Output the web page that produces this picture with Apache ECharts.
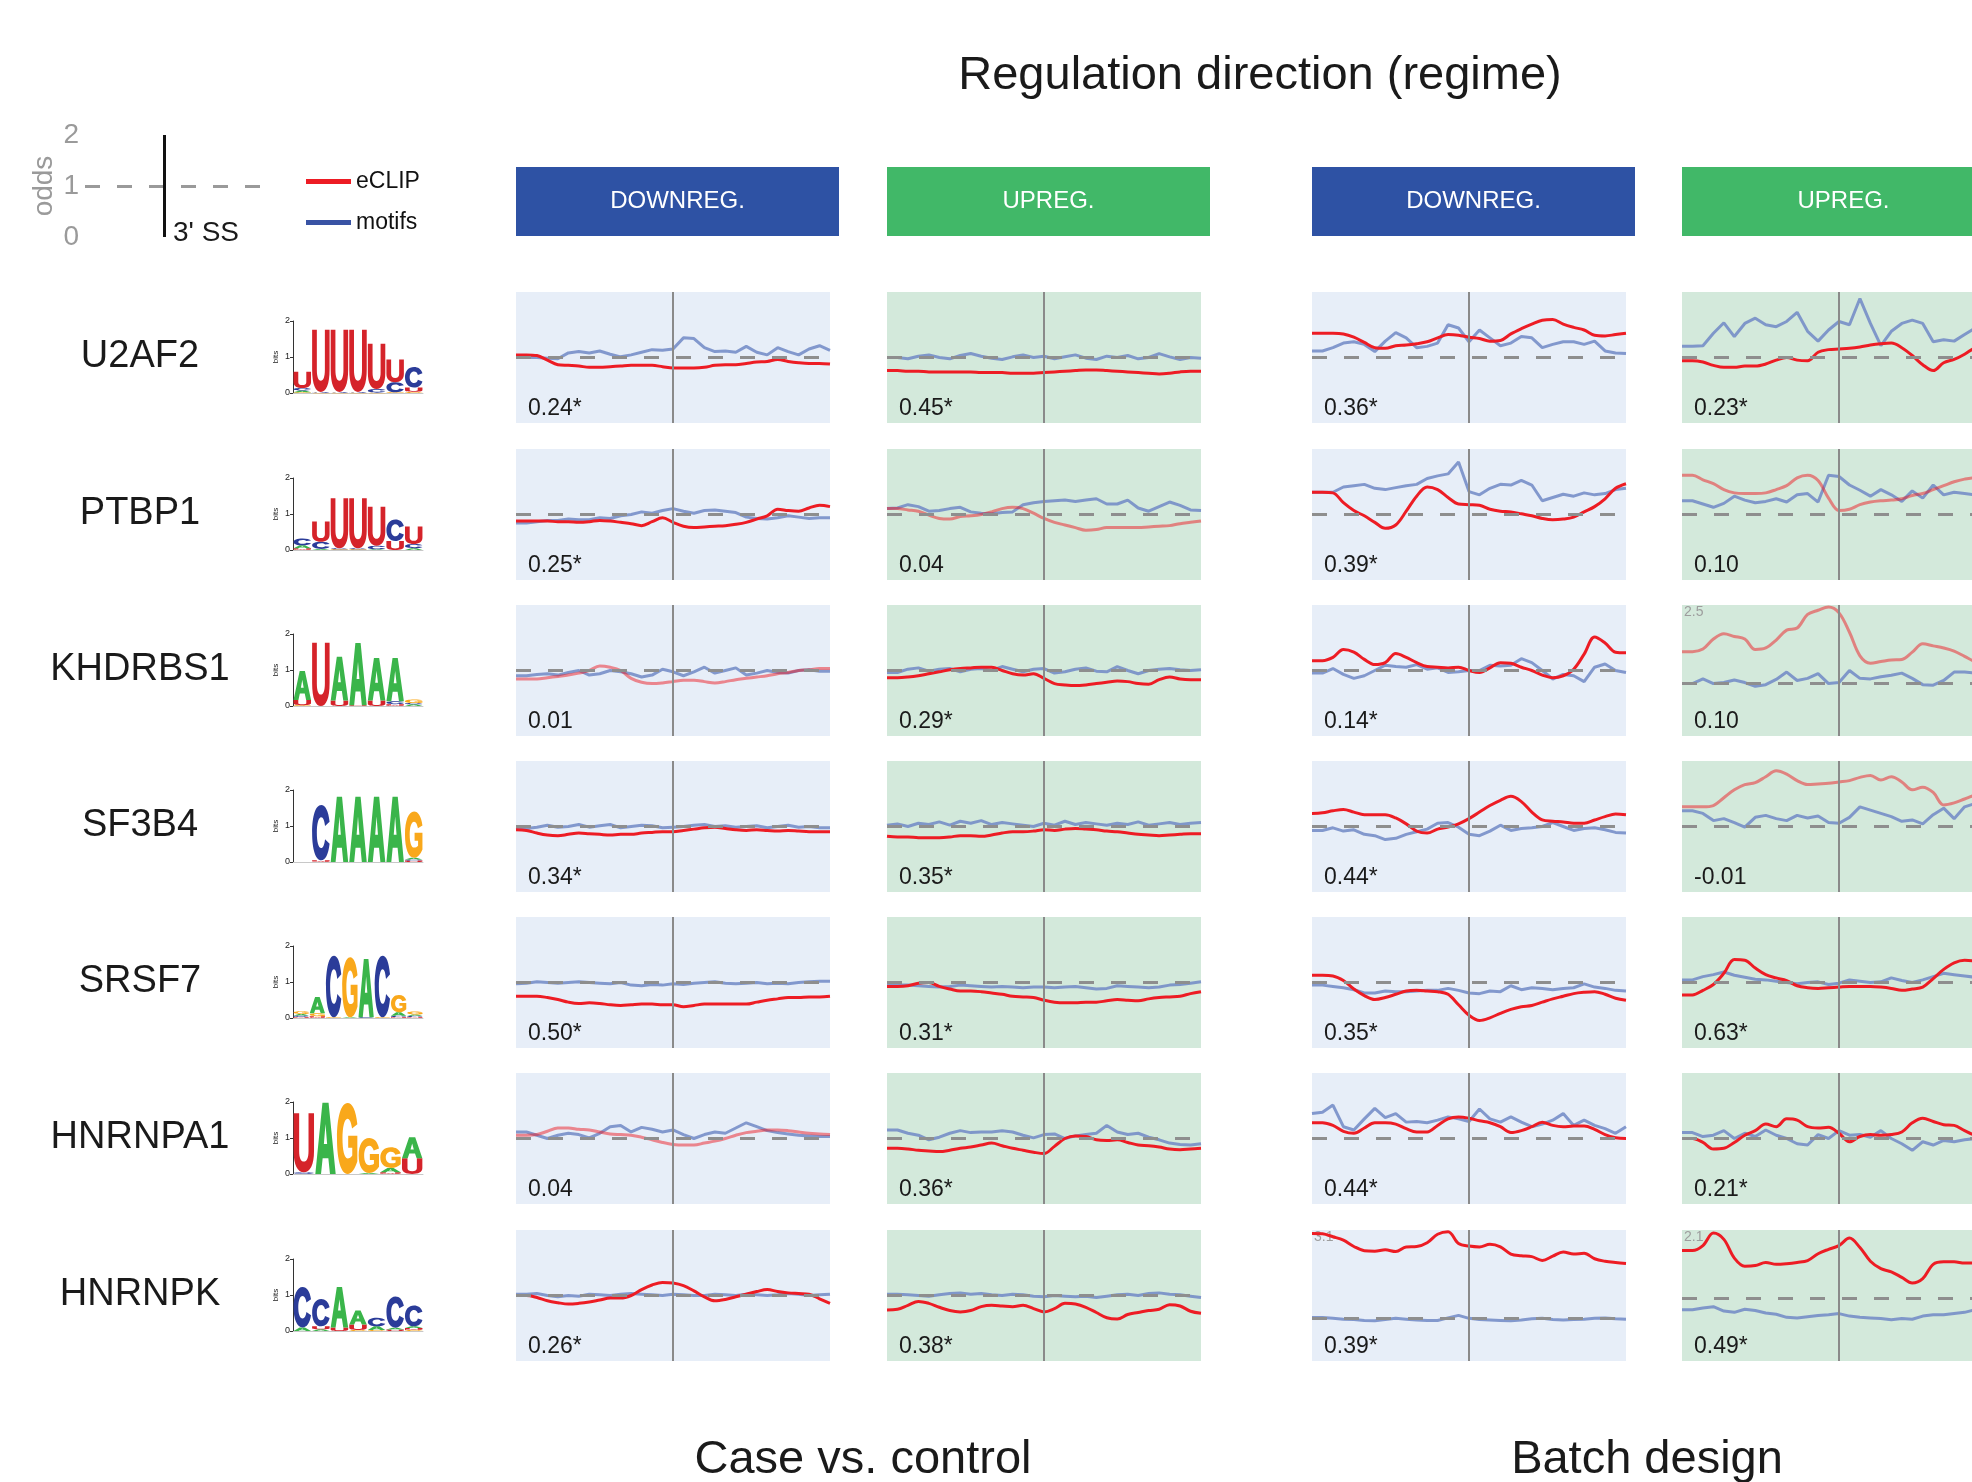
<!DOCTYPE html>
<html><head><meta charset="utf-8">
<script src="https://cdn.jsdelivr.net/npm/echarts@6/dist/echarts.min.js"></script>
<style>html,body{margin:0;padding:0;background:#fff}#c{width:1972px;height:1482px}</style>
</head><body><div id="c"></div>
<script>
// ---------------- data ----------------
const genes = ['U2AF2','PTBP1','KHDRBS1','SF3B4','SRSF7','HNRNPA1','HNRNPK'];
const headerLabels = ['DOWNREG.','UPREG.','DOWNREG.','UPREG.'];
const studyLabels = ['Case vs. control','Batch design'];
const titleText = 'Regulation direction (regime)';
const scores = [
  ['0.24*','0.45*','0.36*','0.23*'],
  ['0.25*','0.04','0.39*','0.10'],
  ['0.01','0.29*','0.14*','0.10'],
  ['0.34*','0.35*','0.44*','-0.01'],
  ['0.50*','0.31*','0.35*','0.63*'],
  ['0.04','0.36*','0.44*','0.21*'],
  ['0.26*','0.38*','0.39*','0.49*']
];
const yMaxes = [
  [2,2,2,2],[2,2,2,2],[2,2,2,2.5],[2,2,2,2],[2,2,2,2],[2,2,2,2],[2,2,3.1,2.1]
];
const legendTicks = [0,1,2];

const U2AF2_CD_eclip=[1.04,1.04,1.03,0.96,0.89,0.88,0.87,0.85,0.85,0.86,0.87,0.88,0.88,0.88,0.86,0.84,0.84,0.84,0.85,0.88,0.89,0.89,0.91,0.93,0.94,0.97,0.94,0.92,0.91,0.91,0.90];
const U2AF2_CD_motif=[1.00,1.00,1.00,0.99,0.98,1.07,1.09,1.07,1.10,1.05,1.01,1.04,1.08,1.12,1.11,1.13,1.30,1.29,1.15,1.09,1.10,1.08,1.17,1.08,1.04,1.15,1.09,1.04,1.13,1.18,1.11];
const U2AF2_CU_eclip=[0.80,0.80,0.79,0.79,0.78,0.78,0.78,0.78,0.78,0.77,0.77,0.77,0.76,0.76,0.76,0.77,0.78,0.79,0.80,0.81,0.81,0.80,0.79,0.78,0.77,0.76,0.75,0.76,0.78,0.79,0.79];
const U2AF2_CU_motif=[1.00,1.00,0.98,1.02,1.04,1.00,0.98,1.03,1.06,1.02,0.99,0.97,1.01,1.04,1.00,1.02,0.98,1.01,1.04,0.99,0.97,1.02,1.00,1.03,0.98,1.00,1.06,1.01,0.97,1.00,0.99];
const U2AF2_BD_eclip=[1.37,1.37,1.37,1.36,1.31,1.23,1.15,1.14,1.18,1.19,1.21,1.24,1.30,1.35,1.34,1.31,1.29,1.25,1.26,1.36,1.44,1.51,1.57,1.58,1.51,1.46,1.42,1.34,1.33,1.35,1.37];
const U2AF2_BD_motif=[1.10,1.10,1.15,1.22,1.24,1.20,1.09,1.25,1.38,1.30,1.15,1.17,1.22,1.50,1.45,1.24,1.42,1.30,1.18,1.22,1.32,1.30,1.15,1.20,1.24,1.24,1.20,1.25,1.10,1.07,1.06];
const U2AF2_BU_eclip=[0.95,0.95,0.93,0.88,0.85,0.85,0.87,0.87,0.90,0.96,1.00,0.96,0.95,1.08,1.12,1.13,1.14,1.16,1.19,1.21,1.22,1.15,1.03,0.89,0.80,0.92,0.97,1.05,1.15,1.20,1.20];
const U2AF2_BU_motif=[1.17,1.17,1.18,1.37,1.53,1.32,1.52,1.60,1.50,1.47,1.55,1.69,1.40,1.25,1.42,1.55,1.50,1.90,1.52,1.18,1.40,1.52,1.57,1.52,1.24,1.27,1.25,1.35,1.45,1.35,1.30];

const PTBP1_CD_eclip=[0.90,0.90,0.90,0.90,0.89,0.89,0.88,0.89,0.91,0.90,0.88,0.86,0.83,0.89,0.95,0.88,0.82,0.80,0.81,0.82,0.83,0.85,0.88,0.93,0.98,1.08,1.06,1.05,1.10,1.14,1.12];
const PTBP1_CD_motif=[0.87,0.87,0.89,0.91,0.91,0.93,0.92,0.92,0.95,0.94,0.98,1.00,1.04,1.02,1.06,1.09,1.05,1.02,1.06,1.07,1.05,1.03,0.96,0.94,0.93,0.95,0.98,0.96,0.94,0.95,0.95];
const PTBP1_CU_eclip=[1.09,1.09,1.07,1.05,0.99,0.94,0.93,0.97,0.98,1.00,1.04,1.09,1.11,1.09,1.02,0.94,0.88,0.84,0.80,0.76,0.77,0.80,0.80,0.80,0.80,0.81,0.82,0.83,0.86,0.88,0.90];
const PTBP1_CU_motif=[1.09,1.10,1.15,1.12,1.05,1.06,1.09,1.11,1.04,1.02,1.01,1.03,1.04,1.15,1.18,1.20,1.21,1.22,1.20,1.22,1.24,1.16,1.16,1.22,1.10,1.05,1.12,1.19,1.14,1.07,1.06];
const PTBP1_BD_eclip=[1.34,1.34,1.33,1.18,1.06,0.98,0.88,0.79,0.84,1.05,1.28,1.42,1.38,1.26,1.16,1.15,1.14,1.08,1.05,1.04,1.01,0.98,0.94,0.92,0.93,0.96,1.04,1.12,1.24,1.40,1.47];
const PTBP1_BD_motif=[1.34,1.34,1.34,1.42,1.44,1.46,1.40,1.38,1.41,1.44,1.46,1.55,1.59,1.62,1.80,1.35,1.30,1.40,1.46,1.45,1.52,1.45,1.21,1.26,1.31,1.28,1.33,1.30,1.32,1.38,1.40];
const PTBP1_BU_eclip=[1.60,1.60,1.53,1.47,1.38,1.33,1.32,1.32,1.33,1.38,1.44,1.56,1.60,1.52,1.25,1.06,1.08,1.15,1.19,1.21,1.22,1.24,1.29,1.32,1.38,1.44,1.50,1.54,1.56,1.55,1.55];
const PTBP1_BU_motif=[1.21,1.21,1.16,1.11,1.17,1.28,1.22,1.18,1.20,1.24,1.19,1.30,1.32,1.19,1.60,1.58,1.45,1.37,1.28,1.38,1.30,1.20,1.36,1.25,1.45,1.30,1.34,1.32,1.30,1.32,1.30];

const KHDRBS1_CD_eclip=[0.87,0.87,0.87,0.89,0.91,0.93,0.96,1.00,1.07,1.05,1.00,0.88,0.82,0.80,0.81,0.83,0.85,0.85,0.83,0.81,0.83,0.86,0.88,0.90,0.92,0.95,0.97,1.00,1.01,1.03,1.03];
const KHDRBS1_CD_motif=[0.92,0.92,0.94,0.95,0.93,0.97,1.00,0.93,0.95,1.00,0.98,0.95,0.90,0.93,1.02,0.98,0.92,0.98,1.05,0.96,1.00,1.04,0.93,0.96,1.00,0.97,0.96,1.00,1.01,0.99,0.99];
const KHDRBS1_CU_eclip=[0.89,0.89,0.90,0.92,0.95,0.98,1.01,1.03,1.04,1.05,1.05,1.00,0.95,0.93,0.95,0.88,0.80,0.78,0.77,0.78,0.80,0.82,0.84,0.83,0.80,0.79,0.86,0.90,0.87,0.86,0.86];
const KHDRBS1_CU_motif=[0.97,0.97,1.02,1.04,0.99,1.02,1.03,0.98,1.02,1.03,1.00,1.06,1.02,0.98,1.02,1.03,0.96,0.98,1.02,1.04,0.99,0.98,1.06,1.00,0.95,1.00,1.02,1.03,1.01,1.00,1.01];
const KHDRBS1_BD_eclip=[1.15,1.15,1.20,1.32,1.28,1.17,1.09,1.12,1.26,1.20,1.12,1.06,1.05,1.04,1.05,1.00,0.97,1.04,1.12,1.11,1.05,1.00,0.93,0.89,0.92,1.02,1.25,1.51,1.42,1.28,1.27];
const KHDRBS1_BD_motif=[0.96,0.96,1.03,0.94,0.88,0.92,1.00,1.08,1.06,1.05,1.09,1.02,1.04,0.97,0.98,1.00,1.00,1.08,1.07,1.08,1.18,1.12,1.00,0.87,0.94,0.92,0.83,1.05,1.10,1.00,0.97];
const KHDRBS1_BU_eclip=[1.61,1.61,1.66,1.85,1.95,1.90,1.85,1.65,1.68,1.83,2.02,2.06,2.32,2.40,2.46,2.35,1.98,1.53,1.39,1.42,1.45,1.46,1.60,1.76,1.72,1.68,1.62,1.52,1.42,1.40,1.40];
const KHDRBS1_BU_motif=[1.00,1.00,1.09,1.00,1.02,1.07,1.02,0.95,0.98,1.08,1.22,1.06,1.10,1.19,1.00,1.02,1.25,1.10,1.09,1.13,1.16,1.20,1.10,0.98,0.97,1.06,1.22,1.22,1.20,1.15,1.10];

const SF3B4_CD_eclip=[0.95,0.94,0.90,0.87,0.86,0.88,0.90,0.89,0.88,0.87,0.88,0.88,0.90,0.91,0.92,0.92,0.94,0.96,0.98,0.99,0.97,0.95,0.94,0.95,0.94,0.93,0.94,0.93,0.92,0.92,0.92];
const SF3B4_CD_motif=[0.98,0.97,0.99,1.02,0.99,1.00,1.03,0.99,1.01,1.03,0.98,1.00,1.02,1.01,0.98,0.99,1.00,1.02,1.03,1.00,1.01,0.99,1.00,1.01,0.98,1.00,1.02,0.99,1.00,0.98,0.98];
const SF3B4_CU_eclip=[0.85,0.84,0.84,0.83,0.83,0.83,0.84,0.86,0.86,0.85,0.87,0.90,0.92,0.92,0.93,0.95,0.94,0.96,0.97,0.96,0.95,0.93,0.92,0.90,0.88,0.87,0.86,0.87,0.88,0.89,0.89];
const SF3B4_CU_motif=[1.02,1.04,1.00,1.05,1.03,1.07,1.02,1.08,1.05,1.09,1.03,1.06,1.04,1.02,1.00,1.05,1.02,1.08,1.03,1.06,1.04,1.02,1.05,1.03,1.07,1.02,1.04,1.06,1.03,1.05,1.06];
const SF3B4_BD_eclip=[1.20,1.21,1.24,1.26,1.22,1.18,1.18,1.18,1.13,1.04,0.93,0.90,0.96,0.99,1.04,1.12,1.22,1.32,1.40,1.46,1.38,1.22,1.10,1.08,1.07,1.05,1.05,1.10,1.15,1.19,1.18];
const SF3B4_BD_motif=[0.94,0.94,0.98,0.93,0.95,0.88,0.86,0.80,0.82,0.88,0.92,0.96,1.05,1.06,0.99,0.88,0.86,0.93,1.02,0.94,0.97,0.98,1.00,1.06,1.00,0.94,0.97,0.98,0.95,0.91,0.90];
const SF3B4_BU_eclip=[1.30,1.30,1.30,1.32,1.44,1.56,1.64,1.67,1.76,1.85,1.80,1.70,1.64,1.65,1.66,1.68,1.70,1.75,1.78,1.71,1.76,1.68,1.56,1.60,1.52,1.33,1.36,1.42,1.48,1.50,1.50];
const SF3B4_BU_motif=[1.24,1.24,1.20,1.09,1.12,1.06,0.99,1.14,1.17,1.12,1.09,1.17,1.13,1.16,1.06,1.05,1.14,1.30,1.25,1.20,1.15,1.08,1.10,1.04,1.18,1.28,1.12,1.30,1.35,1.30,1.30];

const SRSF7_CD_eclip=[0.79,0.79,0.79,0.77,0.74,0.70,0.68,0.69,0.68,0.66,0.65,0.66,0.67,0.67,0.66,0.66,0.63,0.65,0.67,0.67,0.67,0.67,0.67,0.70,0.73,0.75,0.77,0.77,0.78,0.78,0.79];
const SRSF7_CD_motif=[0.98,0.99,1.01,1.00,0.99,1.00,1.01,1.00,0.99,0.98,1.00,0.96,0.95,0.97,0.96,0.98,0.97,0.99,1.00,1.01,0.99,0.98,0.99,1.00,0.98,0.99,0.98,1.00,1.01,1.02,1.02];
const SRSF7_CU_eclip=[0.94,0.94,0.95,0.99,1.00,0.94,0.90,0.87,0.87,0.86,0.84,0.82,0.79,0.78,0.77,0.73,0.70,0.69,0.69,0.70,0.70,0.72,0.74,0.73,0.72,0.75,0.77,0.78,0.79,0.83,0.86];
const SRSF7_CU_motif=[0.96,0.96,0.96,0.95,0.94,0.93,0.94,0.96,0.95,0.94,0.93,0.94,0.93,0.92,0.93,0.93,0.92,0.93,0.94,0.92,0.90,0.91,0.95,0.94,0.93,0.92,0.93,0.96,0.97,0.99,1.01];
const SRSF7_BD_eclip=[1.11,1.11,1.10,1.03,0.90,0.80,0.74,0.77,0.82,0.87,0.88,0.87,0.86,0.82,0.66,0.50,0.42,0.46,0.53,0.59,0.63,0.65,0.70,0.75,0.79,0.83,0.85,0.86,0.82,0.76,0.73];
const SRSF7_BD_motif=[0.96,0.96,0.94,0.92,0.89,0.84,0.84,0.87,0.86,0.86,0.87,0.88,0.88,0.91,0.88,0.84,0.83,0.87,0.86,0.95,0.89,0.92,0.91,0.89,0.91,0.92,0.98,0.93,0.91,0.88,0.87];
const SRSF7_BU_eclip=[0.81,0.81,0.88,0.97,1.14,1.35,1.34,1.22,1.12,1.07,1.03,0.95,0.92,0.91,0.92,0.93,0.94,0.94,0.94,0.93,0.91,0.88,0.90,0.93,1.06,1.20,1.30,1.34,1.32,1.25,1.20];
const SRSF7_BU_motif=[1.04,1.04,1.09,1.12,1.16,1.11,1.08,1.05,1.04,1.02,1.00,0.98,1.00,1.01,0.97,0.99,1.04,1.02,1.00,1.01,1.07,1.03,1.00,1.04,1.09,1.14,1.12,1.10,1.08,1.06,1.05];

const HNRNPA1_CD_eclip=[1.05,1.05,1.06,1.11,1.16,1.16,1.14,1.13,1.10,1.07,1.06,1.05,1.02,0.98,0.94,0.91,0.90,0.90,0.93,0.96,1.00,1.05,1.09,1.11,1.13,1.13,1.12,1.10,1.08,1.07,1.06];
const HNRNPA1_CD_motif=[1.10,1.10,1.05,1.00,1.05,1.08,1.06,1.01,1.08,1.18,1.20,1.10,1.17,1.14,1.10,1.13,1.06,1.00,1.06,1.10,1.08,1.16,1.24,1.18,1.12,1.09,1.07,1.05,1.04,1.03,1.03];
const HNRNPA1_CU_eclip=[0.85,0.85,0.84,0.82,0.81,0.80,0.82,0.85,0.87,0.90,0.93,0.89,0.85,0.82,0.79,0.77,0.88,1.00,1.04,1.03,0.98,0.97,0.98,0.94,0.90,0.89,0.87,0.84,0.83,0.84,0.85];
const HNRNPA1_CU_motif=[1.13,1.13,1.08,1.05,0.98,1.02,1.08,1.12,1.09,1.10,1.10,1.12,1.10,1.05,1.01,1.06,1.07,1.00,1.04,1.06,1.08,1.20,1.10,1.06,1.08,1.02,0.98,0.93,0.91,0.90,0.92];
const HNRNPA1_BD_eclip=[1.24,1.24,1.20,1.11,1.08,1.16,1.24,1.24,1.22,1.15,1.10,1.10,1.20,1.30,1.33,1.31,1.27,1.24,1.18,1.09,1.12,1.18,1.25,1.20,1.18,1.19,1.19,1.14,1.06,1.01,1.00];
const HNRNPA1_BD_motif=[1.38,1.40,1.51,1.18,1.13,1.30,1.46,1.32,1.38,1.25,1.26,1.24,1.28,1.33,1.30,1.26,1.45,1.30,1.25,1.33,1.25,1.18,1.22,1.28,1.38,1.20,1.28,1.20,1.15,1.08,1.18];
const HNRNPA1_BU_eclip=[1.00,1.00,0.94,0.84,0.85,0.94,1.05,1.12,1.22,1.18,1.30,1.28,1.18,1.16,1.17,1.08,0.95,1.03,1.06,1.05,1.06,1.10,1.24,1.31,1.26,1.21,1.20,1.12,1.05,1.02,1.00];
const HNRNPA1_BU_motif=[1.09,1.09,1.03,1.05,1.12,1.00,1.08,1.03,1.13,1.05,1.00,0.92,0.90,1.06,1.00,1.12,1.05,1.06,1.02,1.12,1.00,0.92,0.82,0.95,0.90,0.97,0.95,0.98,1.00,1.00,1.00];

const HNRNPK_CD_eclip=[1.00,1.00,0.97,0.92,0.89,0.87,0.88,0.90,0.93,0.96,0.96,1.00,1.09,1.16,1.20,1.19,1.15,1.07,0.98,0.92,0.94,0.98,1.02,1.06,1.09,1.06,1.04,1.03,1.02,0.95,0.88];
const HNRNPK_CD_motif=[1.02,1.02,1.03,1.00,0.98,1.00,0.99,1.02,1.01,1.00,1.02,1.03,1.02,1.01,1.00,1.02,1.01,1.00,1.00,1.02,1.01,1.00,1.02,1.01,1.00,1.01,1.03,1.02,1.00,1.01,1.02];
const HNRNPK_CU_eclip=[0.78,0.79,0.85,0.91,0.88,0.82,0.77,0.75,0.77,0.83,0.85,0.84,0.83,0.85,0.80,0.75,0.80,0.88,0.87,0.82,0.74,0.66,0.64,0.71,0.74,0.77,0.79,0.86,0.84,0.76,0.73];
const HNRNPK_CU_motif=[1.02,1.02,1.01,1.00,0.99,1.01,1.03,1.04,1.02,1.03,1.01,1.00,1.02,1.01,0.99,0.98,1.00,0.99,0.98,0.99,0.97,0.99,1.01,1.02,1.00,1.03,1.04,1.02,1.01,0.99,0.97];
const HNRNPK_BD_eclip=[3.02,3.01,2.94,2.86,2.71,2.61,2.60,2.63,2.59,2.70,2.71,2.80,3.00,3.06,2.78,2.72,2.70,2.76,2.70,2.53,2.49,2.47,2.38,2.48,2.58,2.53,2.55,2.42,2.36,2.33,2.31];
const HNRNPK_BD_motif=[1.03,1.03,1.01,0.99,0.98,0.96,0.95,0.98,1.01,0.99,0.97,0.96,0.96,1.02,1.08,1.01,0.98,0.97,0.96,0.95,0.97,1.00,1.01,0.98,0.97,0.98,0.99,1.01,1.02,1.00,0.99];
const HNRNPK_BU_eclip=[1.77,1.77,1.85,2.05,1.95,1.65,1.52,1.53,1.58,1.55,1.56,1.58,1.61,1.72,1.79,1.85,1.97,1.82,1.60,1.48,1.43,1.34,1.25,1.32,1.55,1.59,1.59,1.57,1.57,1.55,1.55];
const HNRNPK_BU_motif=[0.82,0.82,0.85,0.87,0.80,0.78,0.83,0.81,0.77,0.75,0.70,0.69,0.71,0.73,0.74,0.76,0.72,0.70,0.69,0.68,0.66,0.68,0.67,0.72,0.74,0.74,0.76,0.78,0.82,0.83,0.82];

// sequence logos: per position, letters stacked bottom->top as [letter, bits]
const logo_U2AF2=[[['G',0.02],['A',0.05],['C',0.07],['U',0.45]],[['G',0.01],['C',0.02],['U',1.73]],[['G',0.01],['C',0.02],['U',1.73]],[['G',0.01],['C',0.02],['U',1.73]],[['G',0.01],['C',0.10],['U',1.26]],[['G',0.02],['C',0.28],['U',0.63]],[['G',0.03],['U',0.12],['C',0.57]]];
const logo_PTBP1=[[['U',0.05],['A',0.08],['C',0.19]],[['A',0.03],['C',0.20],['U',0.56]],[['G',0.02],['C',0.03],['U',1.39]],[['G',0.02],['C',0.03],['U',1.39]],[['A',0.02],['C',0.10],['U',1.08]],[['U',0.25],['C',0.60]],[['A',0.05],['C',0.12],['U',0.48]]];
const logo_KHDRBS1=[[['G',0.02],['U',0.15],['A',0.80]],[['U',1.76]],[['U',0.15],['A',1.22]],[['U',0.02],['A',1.73]],[['U',0.15],['A',1.18]],[['U',0.05],['C',0.08],['A',1.20]],[['A',0.05],['C',0.03],['G',0.10]]];
const logo_SF3B4=[[],[['U',0.05],['C',1.53]],[['A',1.81]],[['A',1.81]],[['A',1.81]],[['A',1.81]],[['U',0.04],['C',0.03],['A',0.05],['G',1.28]]];
const logo_SRSF7=[[['U',0.03],['C',0.04],['A',0.04],['G',0.08]],[['U',0.05],['G',0.08],['A',0.45]],[['G',0.02],['C',1.71]],[['A',0.02],['G',1.67]],[['C',0.02],['A',1.62]],[['G',0.02],['C',1.71]],[['U',0.03],['C',0.03],['A',0.10],['G',0.48]],[['U',0.03],['C',0.03],['A',0.04],['G',0.08]]];
const logo_HNRNPA1=[[['C',0.05],['U',1.64]],[['A',1.98]],[['G',1.97]],[['A',0.03],['G',0.97]],[['U',0.05],['A',0.12],['G',0.57]],[['U',0.44],['A',0.58]]];
const logo_HNRNPK=[[['A',0.10],['C',1.12]],[['A',0.05],['U',0.08],['C',0.76]],[['U',0.10],['A',1.12]],[['G',0.03],['U',0.15],['A',0.39]],[['G',0.03],['A',0.10],['C',0.24]],[['U',0.04],['A',0.05],['C',0.87]],[['G',0.03],['U',0.05],['A',0.05],['C',0.58]]];

// tables built from the arrays above
const eclipRows=[
 [U2AF2_CD_eclip,U2AF2_CU_eclip,U2AF2_BD_eclip,U2AF2_BU_eclip],
 [PTBP1_CD_eclip,PTBP1_CU_eclip,PTBP1_BD_eclip,PTBP1_BU_eclip],
 [KHDRBS1_CD_eclip,KHDRBS1_CU_eclip,KHDRBS1_BD_eclip,KHDRBS1_BU_eclip],
 [SF3B4_CD_eclip,SF3B4_CU_eclip,SF3B4_BD_eclip,SF3B4_BU_eclip],
 [SRSF7_CD_eclip,SRSF7_CU_eclip,SRSF7_BD_eclip,SRSF7_BU_eclip],
 [HNRNPA1_CD_eclip,HNRNPA1_CU_eclip,HNRNPA1_BD_eclip,HNRNPA1_BU_eclip],
 [HNRNPK_CD_eclip,HNRNPK_CU_eclip,HNRNPK_BD_eclip,HNRNPK_BU_eclip]];
const motifRows=[
 [U2AF2_CD_motif,U2AF2_CU_motif,U2AF2_BD_motif,U2AF2_BU_motif],
 [PTBP1_CD_motif,PTBP1_CU_motif,PTBP1_BD_motif,PTBP1_BU_motif],
 [KHDRBS1_CD_motif,KHDRBS1_CU_motif,KHDRBS1_BD_motif,KHDRBS1_BU_motif],
 [SF3B4_CD_motif,SF3B4_CU_motif,SF3B4_BD_motif,SF3B4_BU_motif],
 [SRSF7_CD_motif,SRSF7_CU_motif,SRSF7_BD_motif,SRSF7_BU_motif],
 [HNRNPA1_CD_motif,HNRNPA1_CU_motif,HNRNPA1_BD_motif,HNRNPA1_BU_motif],
 [HNRNPK_CD_motif,HNRNPK_CU_motif,HNRNPK_BD_motif,HNRNPK_BU_motif]];
const logos=[logo_U2AF2,logo_PTBP1,logo_KHDRBS1,logo_SF3B4,logo_SRSF7,logo_HNRNPA1,logo_HNRNPK];

// ---------------- layout / style ----------------
const FONT='"Liberation Sans", Arial, Helvetica, sans-serif';
const colLeft=[516,887,1312,1682];
const rowTop=[292,449,605,761,917,1073,1230];
const PW=314, PH=131, NPTS=30;
const HEAD_TOP=167, HEAD_H=69, HEAD_W=323;
const headColor=['#2E52A4','#41B868','#2E52A4','#41B868'];
const bgColor=['#E7EEF8','#D3E9DB','#E7EEF8','#D3E9DB'];
const RED='#ED1C24', BLUE='#7088C6', LEG_BLUE='#3953A4';
const LETTERS=['A','C','G','U'];
const LETTER_COLOR={A:'#3AB54A',C:'#2B3C99',G:'#F9A81B',U:'#D5232A'};
const GLYPH={
 A:'M0,1 L0.35,0 L0.65,0 L1,1 L0.72,1 L0.64,0.78 L0.36,0.78 L0.28,1 Z M0.42,0.58 L0.58,0.58 L0.5,0.3 Z',
 C:'M1,0.3 C0.93,0.1 0.75,0 0.52,0 C0.2,0 0,0.2 0,0.5 C0,0.8 0.2,1 0.52,1 C0.75,1 0.93,0.9 1,0.7 L0.74,0.62 C0.7,0.72 0.63,0.78 0.52,0.78 C0.36,0.78 0.27,0.66 0.27,0.5 C0.27,0.34 0.36,0.22 0.52,0.22 C0.63,0.22 0.7,0.28 0.74,0.38 Z',
 G:'M1,0.3 C0.93,0.1 0.75,0 0.52,0 C0.2,0 0,0.2 0,0.5 C0,0.8 0.2,1 0.52,1 C0.72,1 0.88,0.93 1,0.82 L1,0.46 L0.55,0.46 L0.55,0.63 L0.75,0.63 L0.75,0.74 C0.69,0.77 0.61,0.78 0.52,0.78 C0.36,0.78 0.27,0.66 0.27,0.5 C0.27,0.34 0.36,0.22 0.52,0.22 C0.63,0.22 0.7,0.28 0.74,0.36 Z',
 U:'M0,0 L0.27,0 L0.27,0.64 C0.27,0.76 0.36,0.82 0.5,0.82 C0.64,0.82 0.73,0.76 0.73,0.64 L0.73,0 L1,0 L1,0.64 C1,0.88 0.8,1 0.5,1 C0.2,1 0,0.88 0,0.64 Z'
};

function txt(x,y,s,size,o){o=o||{};
 return {type:'text',x:x,y:y,silent:true,z:10,style:{text:s,font:(o.weight||'normal')+' '+size+'px '+FONT,fill:o.color||'#1a1a1a',
  textAlign:o.align||'left',textVerticalAlign:o.valign||'middle',align:o.align||'left',verticalAlign:o.valign||'middle'}};
}

const grid=[],xAxis=[],yAxis=[],series=[],graphic=[];
let gi=0;

// panels
genes.forEach((g,r)=>{
  for(let c=0;c<4;c++){
    const ym=yMaxes[r][c];
    const sig=scores[r][c].indexOf('*')>=0;
    grid.push({left:colLeft[c],top:rowTop[r],width:PW,height:PH,show:true,backgroundColor:bgColor[c],borderWidth:0,containLabel:false,outerBoundsMode:'none'});
    xAxis.push({gridIndex:gi,type:'value',min:0,max:NPTS,show:false});
    yAxis.push({gridIndex:gi,type:'value',min:0,max:ym,interval:ym,axisLine:{show:false},axisTick:{show:false},splitLine:{show:false},
      axisLabel:{show:ym!==2,inside:true,margin:2,verticalAlign:'top',color:'#9d9d9d',fontSize:14,fontFamily:FONT,formatter:(v)=>(Math.abs(v-ym)<1e-9?String(ym):'')}});
    series.push({type:'line',xAxisIndex:gi,yAxisIndex:gi,data:[],silent:true,z:1,
      markLine:{silent:true,symbol:['none','none'],label:{show:false},animation:false,
        data:[{yAxis:1,lineStyle:{type:[15,17],color:'#8e8e8e',width:3}},{xAxis:NPTS/2,lineStyle:{type:'solid',color:'#8a8a8a',width:2}}]}});
    series.push({type:'line',name:'motifs',xAxisIndex:gi,yAxisIndex:gi,data:motifRows[r][c].map((v,i)=>[i,v]),symbol:'none',smooth:false,silent:true,z:3,
      itemStyle:{color:LEG_BLUE},lineStyle:{color:BLUE,width:3,opacity:0.85}});
    series.push({type:'line',name:'eCLIP',xAxisIndex:gi,yAxisIndex:gi,data:eclipRows[r][c].map((v,i)=>[i,v]),symbol:'none',smooth:0.35,silent:true,z:4,
      itemStyle:{color:RED},lineStyle:{color:RED,width:3,opacity:sig?1:0.5}});
    graphic.push(txt(colLeft[c]+12,rowTop[r]+PH-14,scores[r][c],23));
    gi++;
  }
  graphic.push(txt(140,rowTop[r]+65,g,38,{align:'center'}));
});

// logos
genes.forEach((g,r)=>{
  const logo=logos[r], n=logo.length;
  const items=[];
  logo.forEach((stack,p)=>{let y=0;stack.forEach(([L,h])=>{items.push([p,y,y+h,LETTERS.indexOf(L)]);y+=h;});});
  grid.push({left:293,top:rowTop[r]+65-36,width:130,height:72,containLabel:false,outerBoundsMode:'none'});
  xAxis.push({gridIndex:gi,type:'value',min:0,max:n,axisLine:{show:true,lineStyle:{color:'#c8c8c8',width:1}},axisTick:{show:false},axisLabel:{show:false},splitLine:{show:false}});
  yAxis.push({gridIndex:gi,type:'value',min:0,max:2,interval:1,axisLine:{show:true,lineStyle:{color:'#333',width:1}},axisTick:{show:true,length:3,lineStyle:{color:'#333'}},
    splitLine:{show:false},axisLabel:{fontSize:9,color:'#222',margin:3,fontFamily:FONT},name:'bits',nameLocation:'middle',nameRotate:90,nameGap:13,nameTextStyle:{fontSize:8,color:'#222',fontFamily:FONT}});
  series.push({type:'custom',xAxisIndex:gi,yAxisIndex:gi,data:items,silent:true,animation:false,encode:{x:0,y:[1,2]},
    renderItem:function(params,api){
      const p=api.value(0),y0=api.value(1),y1=api.value(2),L=LETTERS[api.value(3)];
      const a=api.coord([p+0.03,y1]), b=api.coord([p+0.97,y0]);
      return {type:'path',shape:{pathData:GLYPH[L],x:a[0],y:a[1],width:b[0]-a[0],height:Math.max(0.6,b[1]-a[1]),layout:'cover'},style:{fill:LETTER_COLOR[L]}};
    }});
  gi++;
});

// top-left odds key
grid.push({left:85,top:135,width:175,height:102,containLabel:false,outerBoundsMode:'none'});
xAxis.push({gridIndex:gi,type:'value',min:0,max:1,show:false});
yAxis.push({gridIndex:gi,type:'value',min:legendTicks[0],max:legendTicks[2],interval:1,axisLine:{show:false},axisTick:{show:false},splitLine:{show:false},
  axisLabel:{color:'#9a9a9a',fontSize:28,margin:6,fontFamily:FONT},name:'odds',nameLocation:'middle',nameRotate:90,nameGap:27,nameTextStyle:{color:'#9a9a9a',fontSize:28,fontFamily:FONT}});
series.push({type:'line',xAxisIndex:gi,yAxisIndex:gi,data:[],silent:true,
  markLine:{silent:true,symbol:['none','none'],label:{show:false},animation:false,
    data:[{yAxis:1,lineStyle:{type:[15,17],color:'#9a9a9a',width:3}},{xAxis:0.446,lineStyle:{type:'solid',color:'#111',width:3}}]}});
gi++;
graphic.push(txt(173,233,"3' SS",28));

// headers
for(let c=0;c<4;c++){
  graphic.push({type:'rect',silent:true,z:5,shape:{x:colLeft[c],y:HEAD_TOP,width:HEAD_W,height:HEAD_H},style:{fill:headColor[c]}});
  graphic.push(txt(colLeft[c]+HEAD_W/2,HEAD_TOP+HEAD_H/2,headerLabels[c],24,{align:'center',color:'#ffffff'}));
}
graphic.push(txt(1260,76,titleText,47,{align:'center'}));
graphic.push(txt(863,1460,studyLabels[0],47,{align:'center'}));
graphic.push(txt(1647,1460,studyLabels[1],47,{align:'center'}));

const chart=echarts.init(document.getElementById('c'),null,{renderer:'canvas',width:1972,height:1482});
chart.setOption({
  animation:false,
  backgroundColor:'#ffffff',
  textStyle:{fontFamily:FONT},
  legend:{left:301,top:165,orient:'vertical',itemWidth:45,itemHeight:5,itemGap:18,icon:'rect',selectedMode:false,
    textStyle:{fontSize:23,color:'#111',fontFamily:FONT},
    data:[{name:'eCLIP',itemStyle:{color:RED}},{name:'motifs',itemStyle:{color:LEG_BLUE}}]},
  grid:grid,xAxis:xAxis,yAxis:yAxis,series:series,graphic:{elements:graphic}
});
</script></body></html>
